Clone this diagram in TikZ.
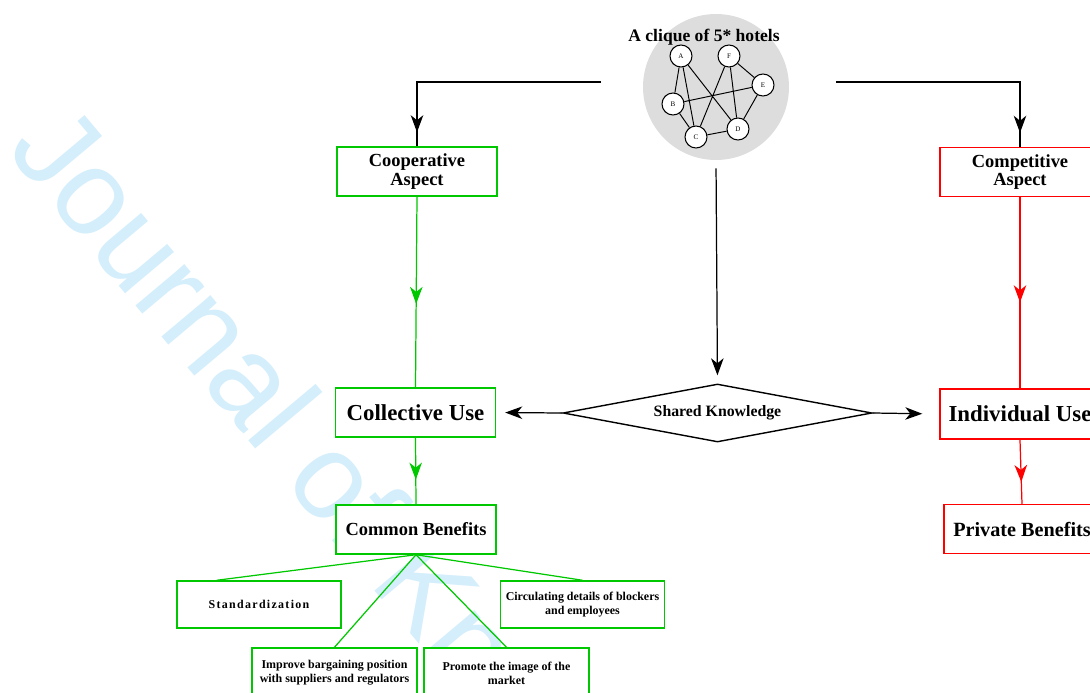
\documentclass[tikz,border=0pt]{standalone}
\usepackage{fontspec}
\setmainfont{Liberation Serif}
\setsansfont{Liberation Sans}
\usetikzlibrary{shapes.geometric,arrows.meta,decorations.markings,calc}
\definecolor{boxgreen}{RGB}{0,200,0}
\definecolor{boxred}{RGB}{255,0,0}
\definecolor{wmblue}{RGB}{212,238,251}
\definecolor{cliquegray}{RGB}{221,221,221}
\tikzset{
  tipA/.tip={Stealth[length=0.34cm,width=0.25cm,inset=0.1cm]},
  conn/.style={line width=0.7pt},
  midarrow/.style={postaction={decorate},decoration={markings,mark=at position #1 with {\arrow{tipA}}}},
  box/.style={draw,fill=white,line width=0.85pt,minimum width=3.2cm,minimum height=0.98cm,align=center,inner sep=1pt,font=\bfseries\fontsize{10.5}{10.5}\selectfont},
  greenbox/.style={box,draw=boxgreen},
  redbox/.style={box,draw=boxred},
  bigtext/.style={font=\bfseries\fontsize{13}{14}\selectfont},
  subbox/.style={draw=boxgreen,fill=white,line width=0.85pt,minimum width=3.28cm,minimum height=0.94cm,align=center,inner sep=1pt,font=\bfseries\fontsize{6.8}{8}\selectfont},
  gnode/.style={circle,draw,fill=white,minimum size=0.44cm,inner sep=0pt,line width=0.6pt,font=\fontsize{4}{4}\selectfont},
  gedge/.style={line width=0.55pt},
  wm/.style={anchor=base west,rotate=-50,text=wmblue,inner sep=0pt,font=\sffamily\fontsize{69}{69}\selectfont}
}
\begin{document}
\begin{tikzpicture}[x=0.02cm,y=-0.02cm]
\useasboundingbox (0,0) rectangle (1090,693);
% watermark
\node[wm] (watermark) at (5,150) {Journal of Knowledge Management};
% clique
\node[circle,fill=cliquegray,minimum size=2.92cm,inner sep=0pt] (clique) at (716,87) {};
\node[font=\bfseries\fontsize{10}{12}\selectfont,inner sep=0pt] (title) at (704,37) {A clique of 5* hotels};
\node[gnode] (gA) at (681,56) {A};
\node[gnode] (gF) at (729,56) {F};
\node[gnode] (gE) at (763,85) {E};
\node[gnode] (gB) at (673,104) {B};
\node[gnode] (gC) at (696,137) {C};
\node[gnode] (gD) at (738,129) {D};
\draw[gedge] (gA)--(gB) (gA)--(gC) (gA)--(gD) (gF)--(gC) (gF)--(gD) (gF)--(gE)
  (gE)--(gB) (gE)--(gD) (gB)--(gC) (gC)--(gD);
% boxes
\node[greenbox] (coop) at (417,171.5) {Cooperative\\Aspect};
\node[redbox] (comp) at (1020,172) {Competitive\\Aspect};
\node[greenbox,bigtext] (coll) at (415.5,412.5) {Collective Use};
\node[redbox,bigtext,minimum height=1cm] (indiv) at (1020,414) {Individual Use};
\node[greenbox] (common) at (416,529.5) {Common Benefits};
\node[redbox,minimum width=3.12cm,font=\bfseries\fontsize{11.5}{12}\selectfont] (private) at (1022,529) {Private Benefits};
\node[diamond,draw,line width=0.8pt,aspect=5.3,minimum width=6.18cm,minimum height=1.16cm,inner sep=0pt,font=\bfseries\fontsize{9}{10}\selectfont] (sk) at (717.5,413) {Shared Knowledge};
\node[subbox] (std) at (259,604.5) {\addfontfeatures{LetterSpace=11}Standardization};
\node[subbox] (circ) at (582.5,604.5) {Circulating details of blockers\\and employees};
\node[subbox,minimum width=3.3cm,minimum height=1cm] (impr) at (334.5,673) {Improve bargaining position\\with suppliers and regulators};
\node[subbox,minimum width=3.3cm,minimum height=1cm] (prom) at (506.5,673) {Promote the image of the\\market};
% connectors
\coordinate (tl) at (601,82);
\coordinate (tr) at (836,82);
\draw[conn,midarrow=-0.28cm] (tl) -| (coop.north);
\draw[conn,midarrow=-0.28cm] (tr) -| (comp.north);
\draw[conn,-{tipA},shorten <=0.16cm,shorten >=0.16cm] (clique.south) -- (sk.north);
\draw[conn,-{tipA},shorten >=0.18cm] (sk.west) -- (coll.east);
\draw[conn,-{tipA},shorten >=0.34cm] (sk.east) -- (indiv.west);
\draw[conn,boxgreen,midarrow=0.5625] (coop.south) -- (coll.north);
\draw[conn,boxgreen,midarrow=0.63] (coll.south) -- (common.north);
\draw[conn,boxred,midarrow=0.55] (comp.south) -- (indiv.north);
\draw[conn,boxred,midarrow=0.66] (indiv.south) -- (private.north);
\draw[conn,boxgreen] (common.south) -- ($(std.north west)!0.245!(std.north east)$);
\draw[conn,boxgreen] (common.south) -- (circ.north);
\draw[conn,boxgreen] (common.south) -- (impr.north);
\draw[conn,boxgreen] (common.south) -- (prom.north);
\end{tikzpicture}
\end{document}
